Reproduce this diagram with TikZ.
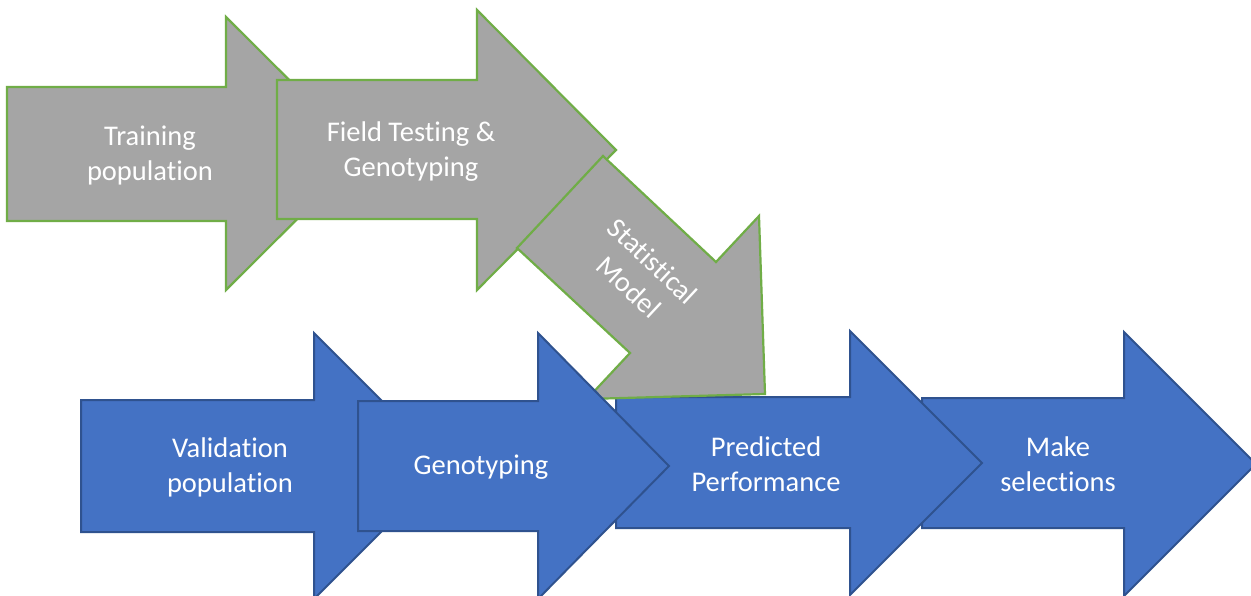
\documentclass[tikz,border=0pt]{standalone}
\usepackage{fontspec}
\setmainfont{Carlito}[Ligatures=NoCommon]
\definecolor{grayfill}{HTML}{A5A5A5}
\definecolor{greenline}{HTML}{70AD47}
\definecolor{bluefill}{HTML}{4472C4}
\definecolor{blueline}{HTML}{2F528F}
\tikzset{
  grayarrow/.style={fill=grayfill, draw=greenline, line width=2.2pt},
  bluearrow/.style={fill=bluefill, draw=blueline, line width=2pt},
  label/.style={text=white, align=center, font=\fontsize{28.5}{35}\selectfont, inner sep=0pt}
}
\begin{document}
\begin{tikzpicture}[x=1pt,y=-1pt]
\path[use as bounding box, clip] (0,0) rectangle (1251,596);
\fill[white] (0,0) rectangle (1251,596);
% gray arrows
\draw[grayarrow] (7,87) -- (226,87) -- (226,17) -- (363,153.5) -- (226,290) -- (226,221) -- (7,221) -- cycle;
\draw[grayarrow] (277,80) -- (477,80) -- (477,10) -- (616,150) -- (477,290) -- (477,219) -- (277,219) -- cycle;
% blue arrows (lower layer)
\draw[bluearrow] (922,398) -- (1124,398) -- (1124,332) -- (1256,464) -- (1124,596) -- (1124,528) -- (922,528) -- cycle;
\draw[bluearrow] (616,397) -- (850,397) -- (850,331) -- (982,463) -- (850,595) -- (850,528) -- (616,528) -- cycle;
% statistical model arrow
\draw[grayarrow] (603,156) -- (716,262) -- (759,216) -- (765,394) -- (587,399) -- (630,353) -- (517,248) -- cycle;
% blue arrows (upper layer)
\draw[bluearrow] (81,400) -- (314,400) -- (314,333) -- (447,466) -- (314,599) -- (314,532) -- (81,532) -- cycle;
\draw[bluearrow] (358,401) -- (538,401) -- (538,333) -- (669,466) -- (538,599) -- (538,531) -- (358,531) -- cycle;
% labels
\node[label] (train) at (150,155) {Training\\population};
\node[label] (field) at (411,152) {Field Testing \&\\Genotyping};
\node[label, rotate=-43] (stat) at (641,274) {Statistical\\Model};
\node[label] (valid) at (230,467) {Validation\\population};
\node[label] (geno) at (481,467) {Genotyping};
\node[label] (pred) at (766,464) {Predicted\\Performance};
\node[label] (make) at (1058,464) {Make\\selections};
\end{tikzpicture}
\end{document}
